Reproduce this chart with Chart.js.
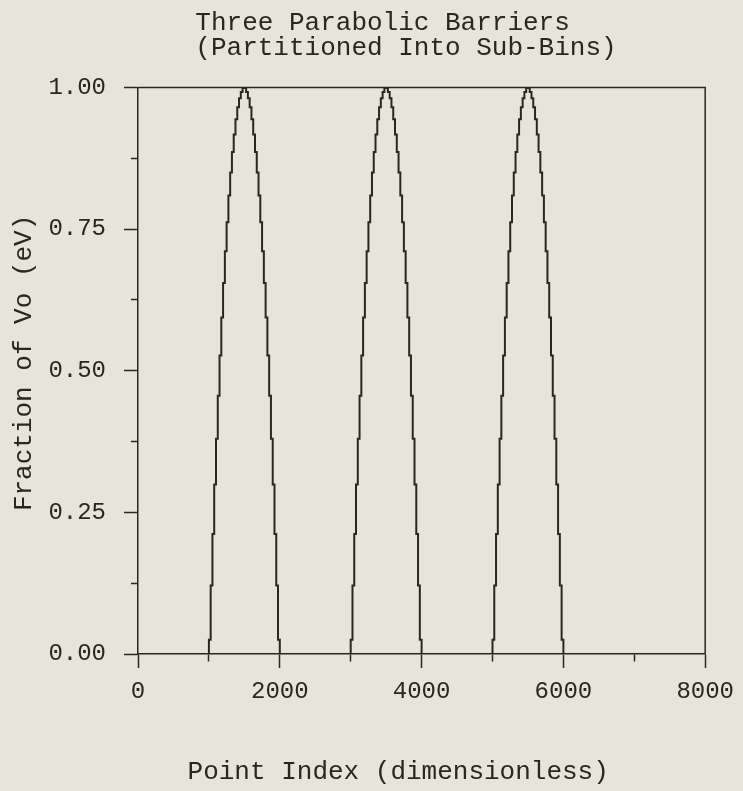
<!DOCTYPE html>
<html>
<head>
<meta charset="utf-8">
<script src="https://cdn.jsdelivr.net/npm/chart.js@4/dist/chart.umd.min.js"></script>
<style>
  body { margin: 0; background: #e7e4db; }
  canvas { display: block; }
</style>
</head>
<body>
<canvas id="chart" width="743" height="791"></canvas>
<script>
// barrier layout: where each barrier starts, width of one sub-bin (points)
const barrierStarts = [1000, 3000, 5000];
const binWidth = 25;
// fraction of Vo in each of the 40 sub-bins across one barrier
const subBinValues = [
  0.025, 0.121, 0.212, 0.299, 0.380, 0.456, 0.527, 0.594, 0.655, 0.711,
  0.762, 0.809, 0.850, 0.886, 0.917, 0.944, 0.965, 0.981, 0.992, 0.999,
  0.999, 0.992, 0.981, 0.965, 0.944, 0.917, 0.886, 0.850, 0.809, 0.762,
  0.711, 0.655, 0.594, 0.527, 0.456, 0.380, 0.299, 0.212, 0.121, 0.025,
];
const xRange = [0, 8000];
const xTicksMajor = [0, 2000, 4000, 6000, 8000];
const yTicksMajor = [0, 0.25, 0.5, 0.75, 1];

const ink = "#2a2622";
const monoFont = "'Liberation Mono', 'DejaVu Sans Mono', monospace";

// build the stepped series
const points = [{ x: xRange[0], y: 0 }];
barrierStarts.forEach((start) => {
  subBinValues.forEach((v, k) => {
    points.push({ x: start + k * binWidth, y: v });
  });
  points.push({ x: start + subBinValues.length * binWidth, y: 0 });
});
points.push({ x: xRange[1], y: 0 });

// top and right edges of the frame
const frame = {
  id: "frame",
  afterDraw(chart) {
    const { ctx, chartArea } = chart;
    ctx.save();
    ctx.strokeStyle = ink;
    ctx.lineWidth = 1.5;
    ctx.beginPath();
    ctx.moveTo(chartArea.left, chartArea.top);
    ctx.lineTo(chartArea.right, chartArea.top);
    ctx.lineTo(chartArea.right, chartArea.bottom);
    ctx.stroke();
    ctx.restore();
  },
};

new Chart(document.getElementById("chart").getContext("2d"), {
  type: "line",
  data: {
    datasets: [
      {
        data: points,
        borderColor: ink,
        borderWidth: 2,
        pointRadius: 0,
        stepped: "before",
        fill: false,
      },
    ],
  },
  options: {
    responsive: false,
    animation: false,
    layout: { padding: { left: 0, right: 34, top: 0, bottom: 0 } },
    plugins: {
      legend: { display: false },
      tooltip: { enabled: false },
      title: {
        display: true,
        fullSize: false,
        text: ["Three Parabolic Barriers     ", "(Partitioned Into Sub-Bins)  "],
        color: ink,
        font: { family: monoFont, size: 26, weight: "normal", lineHeight: 0.95 },
        padding: { top: 11, bottom: 27 },
      },
    },
    scales: {
      x: {
        type: "linear",
        min: xRange[0],
        max: xRange[1],
        afterFit: (scale) => {
          scale.height = 137;
        },
        afterBuildTicks: (scale) => {
          scale.ticks = [];
          for (let v = xRange[0]; v <= xRange[1]; v += 1000) scale.ticks.push({ value: v });
        },
        ticks: {
          color: ink,
          padding: 9,
          maxRotation: 0,
          autoSkip: false,
          font: { family: monoFont, size: 24 },
          callback: (v) => (xTicksMajor.includes(v) ? String(v) : ""),
        },
        grid: {
          drawOnChartArea: false,
          drawTicks: true,
          tickLength: 14,
          tickColor: ink,
          tickWidth: 1.5,
          tickBorderDash: (ctx) => (xTicksMajor.includes(ctx.tick.value) ? [] : [7, 100]),
        },
        border: { display: true, color: ink, width: 1.5 },
        title: {
          display: true,
          text: "Point Index (dimensionless)   ",
          color: ink,
          font: { family: monoFont, size: 26, lineHeight: 1 },
          padding: { top: 0, bottom: 6 },
        },
      },
      y: {
        type: "linear",
        min: 0,
        max: 1,
        afterFit: (scale) => {
          scale.width = 138;
        },
        afterBuildTicks: (scale) => {
          scale.ticks = [];
          for (let i = 0; i <= 8; i++) scale.ticks.push({ value: i * 0.125 });
        },
        ticks: {
          color: ink,
          padding: 18,
          autoSkip: false,
          font: { family: monoFont, size: 24 },
          callback: (v) => (yTicksMajor.includes(v) ? v.toFixed(2) : ""),
        },
        grid: {
          drawOnChartArea: false,
          drawTicks: true,
          tickLength: 14,
          tickColor: ink,
          tickWidth: 1.5,
          // minor ticks: only the half next to the axis
          tickBorderDash: (ctx) => (yTicksMajor.includes(ctx.tick.value) ? [] : [0, 7, 7, 100]),
        },
        border: { display: true, color: ink, width: 1.5 },
        title: {
          display: true,
          text: " Fraction of Vo (eV)",
          color: ink,
          font: { family: monoFont, size: 26, lineHeight: 1 },
          padding: { top: 11, bottom: 0 },
        },
      },
    },
  },
  plugins: [frame],
});
</script>
</body>
</html>
